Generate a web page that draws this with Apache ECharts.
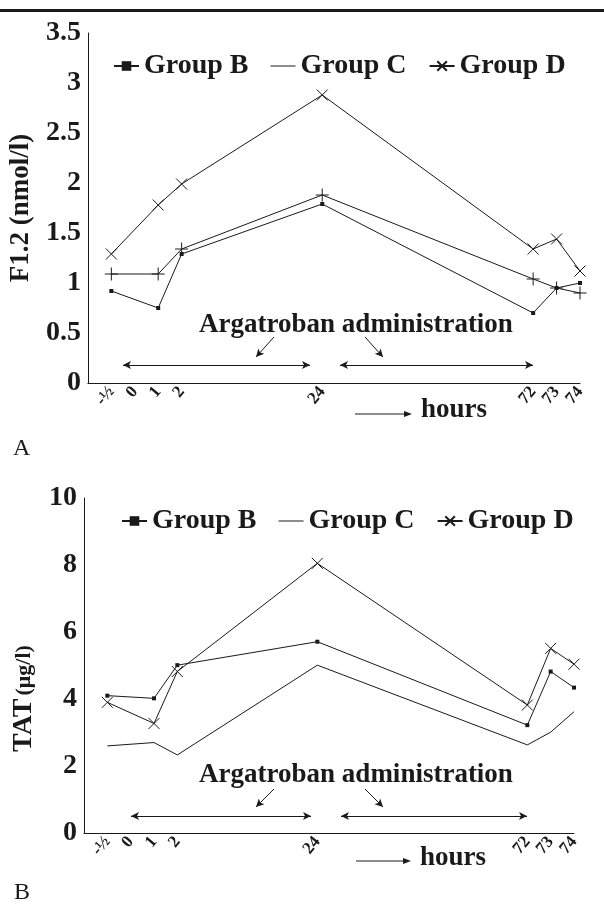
<!DOCTYPE html>
<html><head><meta charset="utf-8">
<script src="https://cdn.jsdelivr.net/npm/echarts@6/dist/echarts.min.js"></script>
<style>html,body{margin:0;padding:0;background:#fff}#c{width:604px;height:907px}</style>
</head><body><div id="c"></div>
<script>
// x-axis slots (blank strings keep the original uneven spacing of the time axis)
const xSlots = ['', '-½', '0', '1', '2', '', '', '', '', '', '24', '', '', '', '', '', '', '', '', '72', '73', '74'];
// sampling times (hours)
const hours = ['-½', '1', '2', '24', '72', '73', '74'];
// Panel A: F1.2 (nmol/l)
const f12GroupB = [0.92, 0.75, 1.29, 1.79, 0.70, 0.95, 1.00];
const f12GroupC = [1.09, 1.09, 1.34, 1.88, 1.04, 0.95, 0.90];
const f12GroupD = [1.29, 1.78, 1.99, 2.88, 1.34, 1.44, 1.12];
// Panel B: TAT (µg/l)
const tatGroupB = [4.10, 4.02, 5.01, 5.71, 3.22, 4.82, 4.34];
const tatGroupC = [2.60, 2.70, 2.33, 5.01, 2.63, 3.01, 3.62];
const tatGroupD = [3.90, 3.27, 4.82, 8.05, 3.82, 5.51, 5.04];
const groupNames = ['Group B', 'Group C', 'Group D'];

const SERIF = 'Liberation Serif, Times New Roman, serif';
const INK = '#1a1a1a';
const pairs = vals => hours.map((h, i) => [h, vals[i]]);

const PLUS = 'path://M5,0L5,10M0,5L10,5';
const CROSS = 'path://M0,0L10,10M10,0L0,10';

function mkSeries(name, vals, gi, symbol, size, extra) {
  const filled = symbol === 'rect';
  return Object.assign({
    type: 'line', name: name, xAxisIndex: gi, yAxisIndex: gi,
    data: pairs(vals), symbol: symbol, symbolSize: size, showSymbol: symbol !== 'none',
    lineStyle: {color: INK, width: 1},
    itemStyle: {color: filled ? INK : 'rgba(0,0,0,0)', borderColor: INK, borderWidth: filled ? 0 : 1},
    emphasis: {disabled: true}, animation: false, z: 3
  }, extra || {});
}

function arrowsML(yBar, yTop, yBot, l1, r1, l2, r2) {
  return {
    silent: true, animation: false,
    symbol: ['arrow', 'arrow'], symbolSize: [6, 8],
    lineStyle: {color: INK, width: 1, type: 'solid'},
    label: {show: false},
    data: [
      [{x: l1, y: yBar}, {x: r1, y: yBar}],
      [{x: l2, y: yBar}, {x: r2, y: yBar}],
      [{x: 274, y: yTop, symbol: 'none'}, {x: 256, y: yBot, symbol: 'arrow'}],
      [{x: 365, y: yTop, symbol: 'none'}, {x: 383, y: yBot, symbol: 'arrow'}]
    ]
  };
}

const axisLabelX = {interval: 0, rotate: 50, fontFamily: SERIF, fontWeight: 'bold', fontSize: 17, color: INK, margin: 6};
const axisLabelY = {fontFamily: SERIF, fontWeight: 'bold', fontSize: 28, color: INK, margin: 7};

function legendFor(top, left) {
  return {
    top: top, left: left, itemGap: 22, itemWidth: 25, itemHeight: 12,
    selectedMode: false, symbolKeepAspect: true,
    textStyle: {fontFamily: SERIF, fontWeight: 'bold', fontSize: 28, color: INK},
    data: [groupNames[0],
           {name: groupNames[1], icon: 'path://M0,0H25V1H0Z', itemStyle: {color: INK, borderWidth: 0}},
           groupNames[2]]
  };
}

function hoursGraphic(xl, xr, y, tx, ty) {
  return [
    {type: 'line', shape: {x1: xl, y1: y, x2: xr - 6, y2: y}, style: {stroke: INK, lineWidth: 1}},
    {type: 'polygon', shape: {points: [[xr - 8, y - 3], [xr, y], [xr - 8, y + 3]]}, style: {fill: INK}},
    {type: 'text', x: tx, y: ty, style: {text: 'hours', font: 'bold 27px ' + SERIF, fill: INK, textVerticalAlign: 'middle'}}
  ];
}

const option = {
  backgroundColor: '#fff',
  animation: false,
  grid: [
    {left: 85, right: 24, top: 33, bottom: 524},
    {left: 84, right: 30, top: 498, bottom: 74}
  ],
  legend: [legendFor(47, 108), legendFor(502, 116)],
  xAxis: [0, 1].map(i => ({
    type: 'category', gridIndex: i, data: xSlots, boundaryGap: false,
    axisLine: {lineStyle: {color: INK, width: 1}},
    axisTick: {show: false}, splitLine: {show: false},
    axisLabel: axisLabelX
  })),
  yAxis: [
    {type: 'value', gridIndex: 0, min: 0, max: 3.5, interval: 0.5,
     axisLine: {show: true, lineStyle: {color: INK, width: 1}}, axisTick: {show: false}, splitLine: {show: false},
     axisLabel: axisLabelY,
     name: 'F1.2 (nmol/l)', nameLocation: 'middle', nameRotate: 90, nameGap: 52,
     nameTextStyle: {fontFamily: SERIF, fontWeight: 'bold', fontSize: 27, color: INK}},
    {type: 'value', gridIndex: 1, min: 0, max: 10, interval: 2,
     axisLine: {show: true, lineStyle: {color: INK, width: 1}}, axisTick: {show: false}, splitLine: {show: false},
     axisLabel: axisLabelY,
     name: '{a|TAT} {b|(μg/l)}', nameLocation: 'middle', nameRotate: 90, nameGap: 40,
     nameTextStyle: {fontFamily: SERIF, fontWeight: 'bold', color: INK, padding: [0, 66, 0, 0],
       rich: {a: {fontFamily: SERIF, fontWeight: 'bold', fontSize: 28, color: INK},
              b: {fontFamily: SERIF, fontWeight: 'bold', fontSize: 22, color: INK}}}}
  ],
  series: [
    mkSeries('Group B', f12GroupB, 0, 'rect', 4, {markLine: arrowsML(365, 337, 357, 123, 310, 340, 533)}),
    mkSeries('Group C', f12GroupC, 0, PLUS, 13),
    mkSeries('Group D', f12GroupD, 0, CROSS, 11),
    mkSeries('Group B', tatGroupB, 1, 'rect', 4, {markLine: arrowsML(816, 789, 807, 131, 311, 341, 527)}),
    mkSeries('Group C', tatGroupC, 1, 'none', 0),
    mkSeries('Group D', tatGroupD, 1, CROSS, 11)
  ],
  graphic: [
    {type: 'rect', shape: {x: 0, y: 9, width: 604, height: 3}, style: {fill: INK}},
    {type: 'text', x: 356, y: 325, style: {text: 'Argatroban administration', font: 'bold 27px ' + SERIF, fill: INK, textAlign: 'center', textVerticalAlign: 'middle'}},
    {type: 'text', x: 356, y: 775, style: {text: 'Argatroban administration', font: 'bold 27px ' + SERIF, fill: INK, textAlign: 'center', textVerticalAlign: 'middle'}},
    ...hoursGraphic(355, 412, 414, 421, 410),
    ...hoursGraphic(356, 411, 861, 420, 858),
    {type: 'text', x: 13, y: 449, style: {text: 'A', font: '24px ' + SERIF, fill: INK, textVerticalAlign: 'middle'}},
    {type: 'text', x: 14, y: 893, style: {text: 'B', font: '24px ' + SERIF, fill: INK, textVerticalAlign: 'middle'}}
  ]
};
const chart = echarts.init(document.getElementById('c'), null, {renderer: 'canvas'});
chart.setOption(option);
</script></body></html>
